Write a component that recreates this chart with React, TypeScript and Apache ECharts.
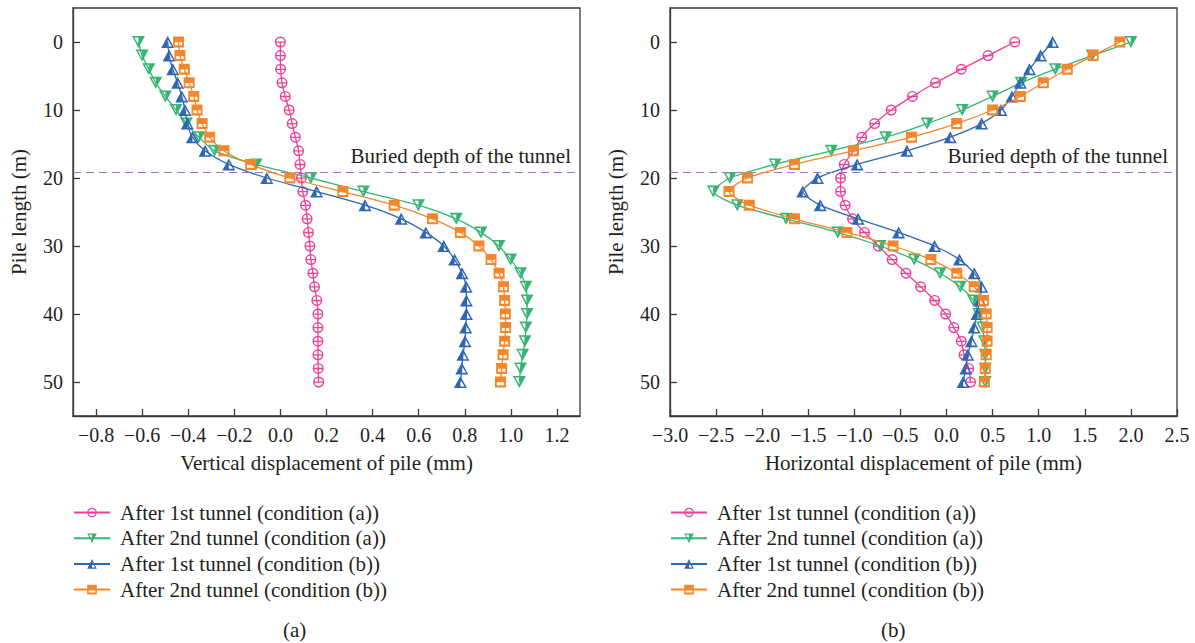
import React, { useEffect, useRef } from 'react';
import * as echarts from 'echarts';

// Pile depth (m) of every measured point
const depth = [0, 2, 4, 6, 8, 10, 12, 14, 16, 18, 20, 22, 24, 26, 28, 30, 32, 34, 36, 38, 40, 42, 44, 46, 48, 50];

const seriesNames = [
  'After 1st tunnel (condition (a))',
  'After 2nd tunnel (condition (a))',
  'After 1st tunnel (condition (b))',
  'After 2nd tunnel (condition (b))',
];

// (a) Vertical displacement of pile (mm)
const vertA1 = [0, 0, 0.001, 0.007, 0.021, 0.038, 0.051, 0.065, 0.079, 0.085, 0.091, 0.097, 0.109, 0.116, 0.122, 0.128, 0.132, 0.141, 0.148, 0.158, 0.163, 0.163, 0.163, 0.163, 0.164, 0.166];
const vertA2 = [-0.616, -0.6, -0.571, -0.541, -0.499, -0.453, -0.408, -0.354, -0.286, -0.106, 0.132, 0.36, 0.599, 0.763, 0.87, 0.948, 0.999, 1.042, 1.065, 1.07, 1.07, 1.065, 1.061, 1.051, 1.042, 1.037];
const vertB1 = [-0.489, -0.483, -0.467, -0.446, -0.428, -0.414, -0.404, -0.382, -0.327, -0.224, -0.059, 0.157, 0.367, 0.524, 0.631, 0.709, 0.756, 0.788, 0.806, 0.807, 0.807, 0.804, 0.801, 0.792, 0.787, 0.781];
const vertB2 = [-0.442, -0.436, -0.417, -0.396, -0.376, -0.362, -0.34, -0.307, -0.245, -0.129, 0.041, 0.271, 0.494, 0.66, 0.781, 0.861, 0.914, 0.949, 0.968, 0.973, 0.976, 0.977, 0.973, 0.966, 0.96, 0.955];

// (b) Horizontal displacement of pile (mm)
const horA1 = [0.74, 0.45, 0.16, -0.12, -0.37, -0.6, -0.78, -0.92, -1.01, -1.11, -1.15, -1.15, -1.1, -1.02, -0.89, -0.74, -0.59, -0.44, -0.28, -0.13, -0.01, 0.08, 0.16, 0.19, 0.24, 0.26];
const horA2 = [2.0, 1.58, 1.18, 0.81, 0.5, 0.17, -0.21, -0.66, -1.25, -1.86, -2.35, -2.53, -2.27, -1.74, -1.18, -0.72, -0.35, -0.07, 0.15, 0.29, 0.35, 0.39, 0.41, 0.42, 0.42, 0.42];
const horB1 = [1.15, 1.02, 0.9, 0.8, 0.71, 0.59, 0.38, 0.04, -0.43, -0.97, -1.4, -1.56, -1.37, -0.96, -0.52, -0.13, 0.14, 0.3, 0.38, 0.36, 0.33, 0.3, 0.27, 0.23, 0.21, 0.18];
const horB2 = [1.88, 1.59, 1.31, 1.05, 0.8, 0.5, 0.11, -0.38, -1.01, -1.65, -2.16, -2.36, -2.14, -1.65, -1.08, -0.58, -0.17, 0.11, 0.3, 0.4, 0.43, 0.44, 0.44, 0.43, 0.42, 0.41];

const tunnelDepth = 19.2;
const tunnelLabel = 'Buried depth of the tunnel';

const yTicks = [0, 10, 20, 30, 40, 50];
const xTicksV = [-0.8, -0.6, -0.4, -0.2, 0, 0.2, 0.4, 0.6, 0.8, 1.0, 1.2];
const xTicksH = [-3, -2.5, -2, -1.5, -1, -0.5, 0, 0.5, 1, 1.5, 2, 2.5];

const colors = ['#ec4199', '#35b473', '#2f66b3', '#f5862b'];
const symbols = [
  'path://M0 10A10 10 0 1 1 20 10A10 10 0 1 1 0 10ZM2.6 10A7.4 7.4 0 1 0 17.4 10A7.4 7.4 0 1 0 2.6 10ZM2.6 9H17.4V11.4H2.6Z',
  'path://M0 0L20 0L10 18ZM3.6 2.4L10 12.8L16.4 2.4ZM10 2.4L16.4 2.4L10 12.8Z',
  'path://M10 0L20 18L0 18ZM10 5.2L3.6 15.6L16.4 15.6ZM10 5.2L10 15.6L3.6 15.6Z',
  'path://M0 0H18V18H0ZM3 9.5V14.5H15V9.5Z',
];
const symbolSizes: any[] = [11, [13, 12], [13, 12], 11];

const FONT = '"Liberation Serif", "Times New Roman", serif';
const TEXT = '#231f20';
const FRAME = '#3a3a3a';

const fmt = (v: number) => {
  const s = Math.abs(v).toFixed(1);
  return v < -1e-9 ? '\u2212' + s : s;
};

export default function App() {
  const ref = useRef<HTMLDivElement>(null);
  useEffect(() => {
    if (!ref.current) return;
    const chart = echarts.init(ref.current, undefined, { renderer: 'svg' });

    const makeSeries = (vals: number[][], gridIndex: number) =>
      vals.map((arr, i) => ({
        name: seriesNames[i],
        type: 'line',
        xAxisIndex: gridIndex,
        yAxisIndex: gridIndex,
        data: arr.map((x, k) => [x, depth[k]]),
        smooth: 0.25,
        symbol: symbols[i],
        symbolSize: symbolSizes[i],
        showAllSymbol: true,
        color: colors[i],
        lineStyle: { color: colors[i], width: 1.3 },
        itemStyle: { color: colors[i], borderWidth: 0 },
        z: 2 + i,
        markLine:
          i === 0
            ? {
                silent: true,
                symbol: ['none', 'none'],
                lineStyle: { color: '#9d6fd6', type: [8, 5], width: 1.2 },
                label: {
                  show: true,
                  position: 'insideEndTop',
                  formatter: tunnelLabel,
                  color: TEXT,
                  fontFamily: FONT,
                  fontSize: 21,
                  distance: [9, 6],
                },
                data: [{ yAxis: tunnelDepth }],
              }
            : undefined,
      }));

    const xAxisBase = (name: string, gridIndex: number, min: number, max: number, ticks: number[]) => ({
      type: 'value',
      gridIndex,
      position: 'bottom',
      min,
      max,
      name,
      nameLocation: 'middle',
      nameGap: 36,
      nameTextStyle: { color: TEXT, fontFamily: FONT, fontSize: 21 },
      axisLine: { show: true, onZero: false, lineStyle: { color: FRAME, width: 1.3 } },
      axisTick: { show: true, inside: true, length: 7, customValues: ticks, lineStyle: { color: FRAME, width: 1.3 } },
      axisLabel: { customValues: ticks, formatter: fmt, color: TEXT, fontFamily: FONT, fontSize: 20, margin: 9 },
      splitLine: { show: false },
    });

    const yAxisBase = (gridIndex: number) => ({
      type: 'value',
      gridIndex,
      position: 'left',
      min: -5,
      max: 55,
      inverse: true,
      name: 'Pile length (m)',
      nameLocation: 'middle',
      nameRotate: 90,
      nameGap: 44,
      nameTextStyle: { color: TEXT, fontFamily: FONT, fontSize: 21 },
      axisLine: { show: true, onZero: false, lineStyle: { color: FRAME, width: 1.3 } },
      axisTick: { show: true, inside: true, length: 7, customValues: yTicks, lineStyle: { color: FRAME, width: 1.3 } },
      axisLabel: { customValues: yTicks, color: TEXT, fontFamily: FONT, fontSize: 20, margin: 10 },
      splitLine: { show: false },
    });

    const legendBase = (left: number) => ({
      orient: 'vertical',
      left,
      top: 502,
      padding: 0,
      itemWidth: 36,
      itemHeight: 12,
      itemGap: 4.7,
      data: seriesNames,
      selectedMode: false,
      textStyle: { color: TEXT, fontFamily: FONT, fontSize: 21, lineHeight: 20, padding: [0, 0, 0, 5] },
    });

    chart.setOption({
      animation: false,
      backgroundColor: '#ffffff',
      grid: [
        { left: 73, top: 8, width: 507, height: 408, show: true, borderColor: FRAME, borderWidth: 1.3, backgroundColor: 'transparent' },
        { left: 670, top: 8, width: 507, height: 408, show: true, borderColor: FRAME, borderWidth: 1.3, backgroundColor: 'transparent' },
      ],
      xAxis: [
        xAxisBase('Vertical displacement of pile (mm)', 0, -0.9, 1.3, xTicksV),
        xAxisBase('Horizontal displacement of pile (mm)', 1, -3, 2.5, xTicksH),
      ],
      yAxis: [yAxisBase(0), yAxisBase(1)],
      legend: [legendBase(73), legendBase(670)],
      graphic: [
        { type: 'text', left: 283, top: 619, style: { text: '(a)', fill: TEXT, font: `21px ${FONT}` } },
        { type: 'text', left: 881, top: 619, style: { text: '(b)', fill: TEXT, font: `21px ${FONT}` } },
      ],
      series: [
        ...makeSeries([vertA1, vertA2, vertB1, vertB2], 0),
        ...makeSeries([horA1, horA2, horB1, horB2], 1),
      ],
    } as any);

    return () => chart.dispose();
  }, []);

  return <div ref={ref} style={{ position: 'absolute', left: 0, top: 0, width: 1195, height: 643 }} />;
}
